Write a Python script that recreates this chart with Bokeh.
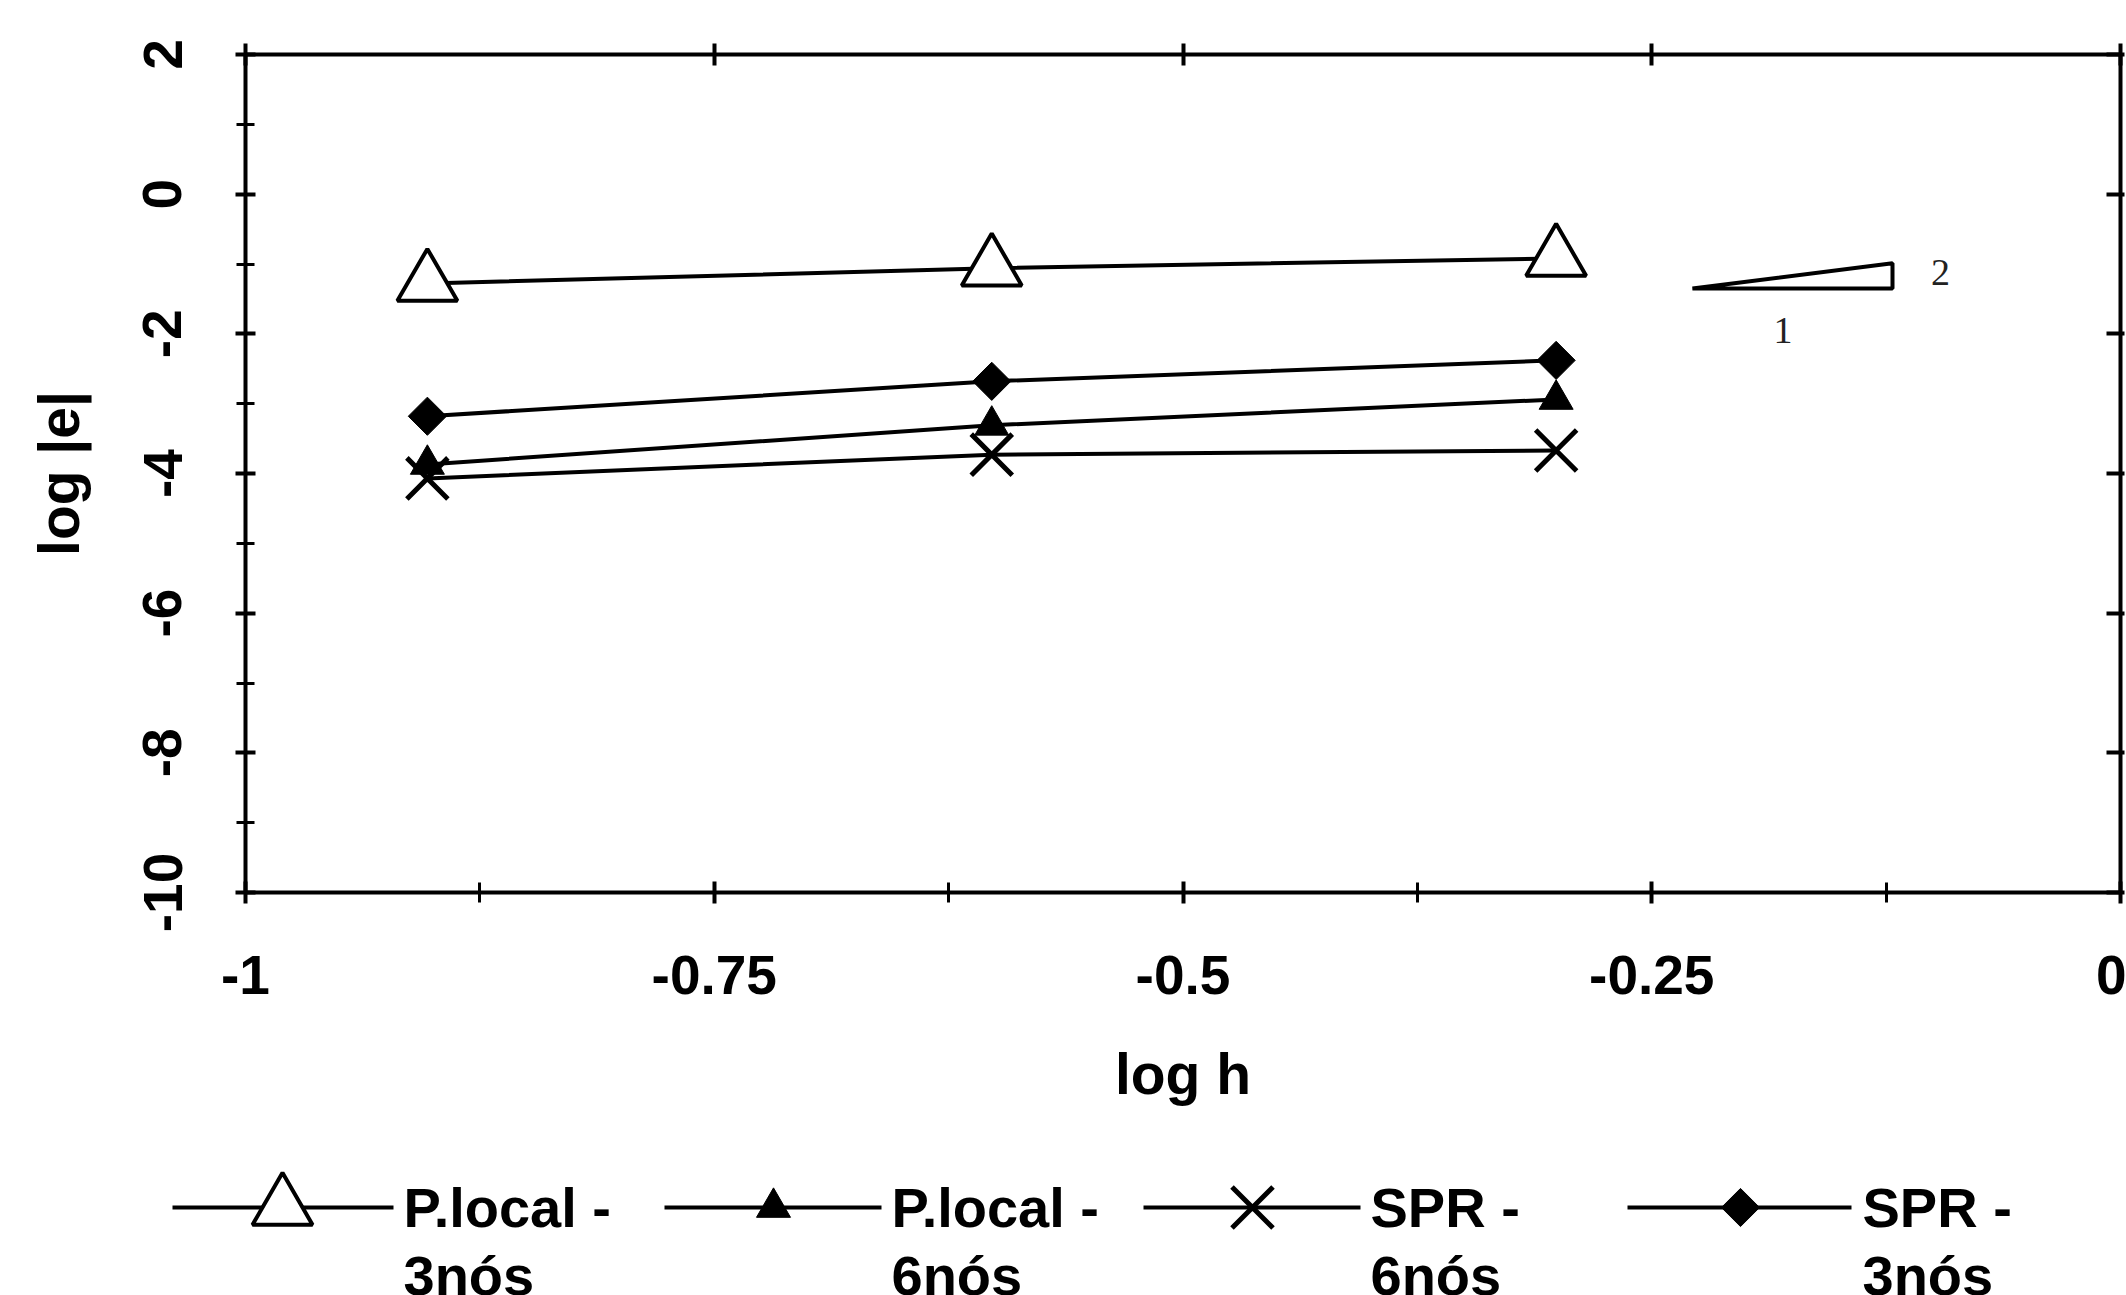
import math
from bokeh.plotting import figure
from bokeh.layouts import column
from bokeh.models import Range1d, FixedTicker, LinearAxis
from bokeh.core.properties import value
from bokeh.embed import file_html
from bokeh.resources import INLINE

# ---------------- data ----------------
log_h = [-0.903, -0.602, -0.301]
plocal_3nos = [-1.28, -1.06, -0.92]
plocal_6nos = [-3.87, -3.31, -2.94]
spr_6nos = [-4.07, -3.73, -3.67]
spr_3nos = [-3.18, -2.68, -2.38]

series_names = ["P.local - 3nós", "P.local - 6nós", "SPR - 6nós", "SPR - 3nós"]

x_ticks = [-1, -0.75, -0.5, -0.25, 0]
x_tick_labels = ["-1", "-0.75", "-0.5", "-0.25", "0"]
x_minor_ticks = [-0.875, -0.625, -0.375, -0.125]
y_ticks = [2, 0, -2, -4, -6, -8, -10]
y_tick_labels = ["2", "0", "-2", "-4", "-6", "-8", "-10"]
y_minor_ticks = [1, -1, -3, -5, -7, -9]

# slope indicator (2:1)
slope_x = [-0.2283, -0.1216, -0.1216]
slope_y = [-1.35, -1.35, -0.99]
slope_labels = ["2", "1"]
slope_label_x = [-0.096, -0.180]
slope_label_y = [-1.12, -1.95]

# ---------------- layout ----------------
W = 2126
H_MAIN = 1140
H_LEG = 155
SANS = "Liberation Sans"

p = figure(width=W, height=H_MAIN, x_range=Range1d(-1, 0), y_range=Range1d(-10, 2),
           output_backend="svg", toolbar_location=None,
           min_border_left=245, min_border_right=6, min_border_top=54, min_border_bottom=248,
           background_fill_color="white", border_fill_color="white")
p.outline_line_color = None
p.xgrid.visible = False
p.ygrid.visible = False
p.frame_align = False


def base_style(ax):
    ax.axis_line_color = "black"
    ax.axis_line_width = 4
    ax.major_tick_line_color = "black"
    ax.major_tick_line_width = 4
    ax.minor_tick_line_color = "black"
    ax.minor_tick_line_width = 3
    ax.major_label_text_font = SANS
    ax.major_label_text_font_style = "bold"
    ax.major_label_text_color = "black"
    ax.axis_label_text_font = SANS
    ax.axis_label_text_font_style = "bold"
    ax.axis_label_text_color = "black"
    ax.axis_label_text_font_size = "57px"


xa = p.xaxis[0]
base_style(xa)
xa.ticker = FixedTicker(ticks=x_ticks, minor_ticks=x_minor_ticks)
xa.major_label_overrides = {float(t): l for t, l in zip(x_ticks, x_tick_labels)}
xa.major_label_text_font_size = "55px"
xa.major_tick_in = 11
xa.major_tick_out = 11
xa.minor_tick_in = 10
xa.minor_tick_out = 10
xa.major_label_standoff = 52
xa.axis_label = "log h"
xa.axis_label_standoff = 45

ya = p.yaxis[0]
base_style(ya)
ya.ticker = FixedTicker(ticks=y_ticks, minor_ticks=y_minor_ticks)
ya.major_label_overrides = {float(t): l for t, l in zip(y_ticks, y_tick_labels)}
ya.major_label_text_font_size = "55px"
ya.major_label_orientation = "vertical"
ya.major_tick_in = 10
ya.major_tick_out = 10
ya.minor_tick_in = 9
ya.minor_tick_out = 9
ya.major_label_standoff = 54
ya.axis_label = "log |e|"
ya.axis_label_standoff = 50

top = LinearAxis(ticker=FixedTicker(ticks=x_ticks, minor_ticks=[]))
base_style(top)
top.major_label_text_font_size = "0px"
top.major_label_text_color = None
top.major_label_standoff = 0
top.major_tick_in = 11
top.major_tick_out = 11
top.minor_tick_in = 0
top.minor_tick_out = 0
p.add_layout(top, "above")

right = LinearAxis(ticker=FixedTicker(ticks=y_ticks, minor_ticks=[]))
base_style(right)
right.major_label_text_font_size = "0px"
right.major_label_text_color = None
right.major_label_standoff = 0
right.major_tick_in = 14
right.major_tick_out = 4
right.minor_tick_in = 0
right.minor_tick_out = 0
p.add_layout(right, "right")

# lines
for ys in (plocal_3nos, spr_3nos, plocal_6nos, spr_6nos):
    p.line(log_h, ys, line_color="black", line_width=4)

# markers
p.scatter(log_h, plocal_3nos, marker="triangle", size=60, fill_color="white",
          line_color="black", line_width=4)
p.scatter(log_h, spr_3nos, marker="square", angle=math.pi / 4, size=27,
          fill_color="black", line_color="black", line_width=1)
p.scatter(log_h, plocal_6nos, marker="triangle", size=34, fill_color="black",
          line_color="black", line_width=1)
p.scatter(log_h, spr_6nos, marker="x", size=58, line_color="black", line_width=5)

# slope indicator
p.patch(slope_x, slope_y, fill_color=None, line_color="black", line_width=4)
p.text(slope_label_x, slope_label_y, text=slope_labels,
       text_font=value("Liberation Serif"), text_font_size="38px",
       text_align="center", text_baseline="middle", text_color="#222222")

# ---------------- legend (separate strip, page-pixel coordinates) ----------------
leg = figure(width=W, height=H_LEG, x_range=Range1d(0, W), y_range=Range1d(H_LEG, 0),
             output_backend="svg", toolbar_location=None,
             x_axis_location=None, y_axis_location=None, min_border=0,
             min_border_left=0, min_border_right=0, min_border_top=0, min_border_bottom=0,
             background_fill_color="white", border_fill_color="white")
leg.outline_line_color = None
leg.xgrid.visible = False
leg.ygrid.visible = False
leg.frame_align = False

leg_line_x0 = [172, 664, 1143, 1627]
leg_line_x1 = [393, 881, 1360, 1851]
leg_marker_x = [282, 773, 1252, 1740]
leg_text_x = [403, 891, 1370, 1862]
leg_sym_y = 67
leg_text_y1 = 67
leg_text_y2 = 135

for x0, x1 in zip(leg_line_x0, leg_line_x1):
    leg.line([x0, x1], [leg_sym_y, leg_sym_y], line_color="black", line_width=4)

leg.scatter([leg_marker_x[0]], [leg_sym_y], marker="triangle", size=60, fill_color="white",
            line_color="black", line_width=4)
leg.scatter([leg_marker_x[1]], [leg_sym_y], marker="triangle", size=34, fill_color="black",
            line_color="black", line_width=1)
leg.scatter([leg_marker_x[2]], [leg_sym_y], marker="x", size=58, line_color="black", line_width=5)
leg.scatter([leg_marker_x[3]], [leg_sym_y], marker="square", angle=math.pi / 4, size=27,
            fill_color="black", line_color="black", line_width=1)

line1 = [n.rsplit(" ", 1)[0] for n in series_names]
line2 = [n.rsplit(" ", 1)[1] for n in series_names]
leg.text(leg_text_x, [leg_text_y1] * 4, text=line1, text_font=value(SANS),
         text_font_size="56px", text_font_style="bold", text_align="left",
         text_baseline="middle", text_color="black")
leg.text(leg_text_x, [leg_text_y2] * 4, text=line2, text_font=value(SANS),
         text_font_size="56px", text_font_style="bold", text_align="left",
         text_baseline="middle", text_color="black")

layout = column(p, leg, spacing=0)
open("out.html", "w").write(file_html(layout, INLINE))
